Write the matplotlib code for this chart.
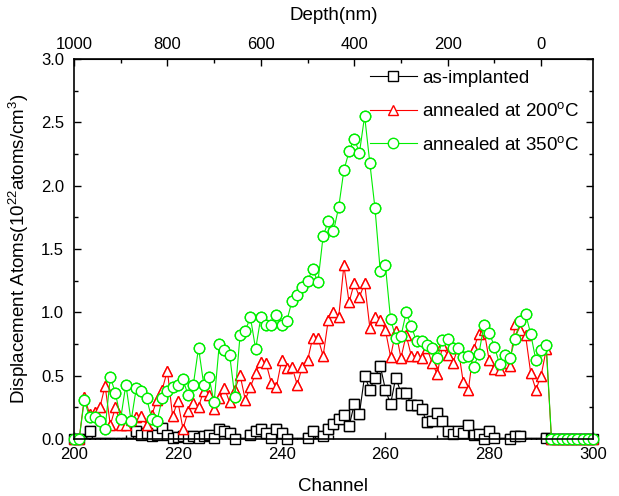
import numpy as np
import matplotlib
matplotlib.use("Agg")
import matplotlib.pyplot as plt
from matplotlib.ticker import MultipleLocator, FixedLocator

plt.rcParams['font.family'] = ['Liberation Sans', 'DejaVu Sans']
plt.rcParams['mathtext.fontset'] = 'custom'
plt.rcParams['mathtext.rm'] = 'Liberation Sans'
plt.rcParams['mathtext.it'] = 'Liberation Sans:italic'

# channel numbers
channel = np.arange(200, 301)

# as-implanted (hidden points below the axis given small negative values)
as_impl = [0, 0, -0.03, 0.06, -0.03, -0.03, -0.03, -0.03, -0.03, -0.03,
           -0.03, -0.03, 0.06, 0.035, 0.05, 0.02, 0.03, 0.09, 0.035, 0.005,
           0.015, 0.02, 0.005, 0.02, 0.01, 0.02, 0.035, 0.01, 0.075, 0.065,
           0.05, 0.0, -0.03, -0.03, 0.03, 0.06, 0.08, 0.05, 0.005, 0.075,
           0.05, 0.0, -0.03, -0.03, -0.03, 0.005, 0.06, -0.03, 0.02, 0.08,
           0.115, 0.155, 0.19, 0.10, 0.275, 0.20, 0.50, 0.39, 0.485, 0.58,
           0.39, 0.275, 0.485, 0.365, 0.36, 0.27, 0.265, 0.235, 0.13, 0.14,
           0.205, 0.145, 0.06, 0.04, 0.06, 0.045, 0.11, 0.035, 0.04, 0.0,
           0.065, 0.01, -0.03, -0.03, 0.0, 0.02, 0.025, -0.03, -0.03, -0.03,
           -0.03, 0.01, 0, 0, 0, 0, 0, 0, 0, 0, 0]

ann200 = [0, 0, 0.33, 0.20, 0.21, 0.25, 0.42, 0.11, 0.25, 0.11,
          0.11, 0.15, 0.17, 0.18, 0.11, 0.19, 0.31, 0.39, 0.54, 0.18,
          0.30, 0.08, 0.22, 0.28, 0.255, 0.38, 0.35, 0.24, 0.32, 0.40,
          0.29, 0.39, 0.505, 0.31, 0.41, 0.52, 0.61, 0.60, 0.445, 0.41,
          0.62, 0.56, 0.57, 0.43, 0.57, 0.62, 0.80, 0.80, 0.655, 0.94,
          1.00, 0.96, 1.37, 1.08, 1.23, 1.12, 1.23, 0.88, 0.965, 0.94,
          0.86, 0.65, 0.85, 0.64, 0.82, 0.655, 0.655, 0.64, 0.72, 0.60,
          0.51, 0.74, 0.66, 0.60, 0.72, 0.45, 0.39, 0.71, 0.83, 0.86,
          0.62, 0.55, 0.545, 0.60, 0.58, 0.91, 0.86, 0.82, 0.52, 0.39,
          0.50, 0.71, 0, 0, 0, 0, 0, 0, 0, 0, 0]

ann350 = [0, 0, 0.31, 0.17, 0.17, 0.14, 0.08, 0.49, 0.36, 0.16,
          0.43, 0.14, 0.40, 0.38, 0.32, 0.16, 0.14, 0.32, 0.38, 0.41,
          0.43, 0.47, 0.345, 0.43, 0.72, 0.43, 0.49, 0.29, 0.75, 0.70,
          0.66, 0.33, 0.82, 0.855, 0.96, 0.71, 0.96, 0.90, 0.90, 0.98,
          0.90, 0.93, 1.09, 1.14, 1.20, 1.25, 1.34, 1.24, 1.60, 1.72,
          1.64, 1.83, 2.12, 2.27, 2.37, 2.26, 2.55, 2.18, 1.82, 1.33,
          1.37, 0.945, 0.80, 0.81, 1.00, 0.89, 0.77, 0.77, 0.74, 0.72,
          0.64, 0.78, 0.79, 0.72, 0.72, 0.65, 0.655, 0.57, 0.67, 0.90,
          0.84, 0.73, 0.59, 0.66, 0.64, 0.79, 0.93, 0.99, 0.83, 0.62,
          0.70, 0.74, 0, 0, 0, 0, 0, 0, 0, 0, 0]

labels = ['as-implanted', r'annealed at 200$^{\rm o}$C', r'annealed at 350$^{\rm o}$C']
depth_ticks = [1000, 800, 600, 400, 200, 0]

# depth (nm) = (c0 - channel) * k
c0 = 290.0
k = 1000.0 / 90.0

fig = plt.figure(figsize=(6.19, 4.96), dpi=100)
ax = fig.add_axes([0.1195, 0.115, 0.8385, 0.766])

series = [(as_impl, 'black', 's', 6.5), (ann200, 'red', '^', 7.5),
          (ann350, '#00ee00', 'o', 7.5)]
for (vals, col, mk, ms), lab in zip(series, labels):
    vals = np.array(vals, dtype=float)
    ax.plot(channel, vals, color=col, marker=mk, ms=ms, mfc='white',
            mew=1.0, lw=0.8, label=lab)
    # markers sitting on the axis are drawn in full (not clipped)
    keep = vals >= 0
    ax.plot(channel[keep], vals[keep], ls='none', color=col, marker=mk, ms=ms,
            mfc='white', mew=1.0, clip_on=False)

ax.set_xlim(200, 300)
ax.set_ylim(0, 3.0)
ax.xaxis.set_major_locator(MultipleLocator(20))
ax.xaxis.set_minor_locator(MultipleLocator(10))
ax.yaxis.set_major_locator(MultipleLocator(0.5))
ax.yaxis.set_minor_locator(MultipleLocator(0.25))
ax.yaxis.set_major_formatter(plt.FormatStrFormatter('%.1f'))
ax.tick_params(which='both', direction='in', right=True, top=False, labelsize=12)
ax.tick_params(which='major', length=5, width=1)
ax.tick_params(which='minor', length=3, width=1)
ax.tick_params(axis='x', pad=6)
ax.tick_params(axis='y', pad=7)
for s in ax.spines.values():
    s.set_linewidth(1.2)

ax.set_xlabel('Channel', fontsize=13.5, labelpad=11)
ax.set_ylabel(r'Displacement Atoms(10$^{22}$atoms/cm$^3$)', fontsize=13.5, labelpad=7)

top = ax.secondary_xaxis('top', functions=(lambda c: (c0 - c) * k,
                                            lambda d: c0 - d / k))
top.xaxis.set_major_locator(FixedLocator(depth_ticks))
top.xaxis.set_minor_locator(FixedLocator([900, 700, 500, 300, 100]))
top.tick_params(which='both', direction='in', labelsize=12, pad=5)
top.tick_params(which='major', length=5, width=1)
top.tick_params(which='minor', length=3, width=1)
top.set_xlabel('Depth(nm)', fontsize=13.5, labelpad=12)

ax.legend(loc='upper left', bbox_to_anchor=(0.570, 0.972), frameon=False,
          fontsize=13.5, handlelength=2.5, labelspacing=0.82, handletextpad=0.3,
          borderpad=0, borderaxespad=0)

fig.savefig('out.png', dpi=100)
